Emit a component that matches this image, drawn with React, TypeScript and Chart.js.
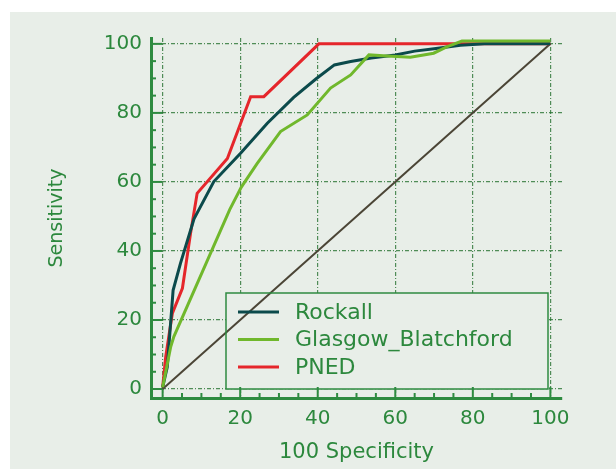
import React, { useEffect, useRef } from "react";
import { Chart, registerables } from "chart.js";

Chart.register(...registerables);

// ---- data ----
const seriesNames = ["Rockall", "Glasgow_Blatchford", "PNED"];

const rockallX = [0, 1.2, 2.7, 4.6, 8.1, 13.2, 20.1, 27, 33.8, 39.6, 44.3, 48.5, 53.8, 60, 65, 70, 76.8, 83, 100];
const rockallY = [0.5, 6.4, 28.6, 36.4, 49.3, 60.1, 68.3, 77, 84.5, 89.9, 93.9, 94.9, 95.9, 96.8, 97.9, 98.6, 99.6, 100, 100];

const glasgowX = [0, 2.1, 2.9, 17.3, 20.3, 24.4, 30.4, 37.3, 43.3, 48.5, 53.2, 57.9, 63.9, 69.9, 73.4, 77.2, 100];
const glasgowY = [0.5, 12.3, 15.2, 52, 58.5, 65.4, 74.6, 79.4, 87.2, 91, 96.8, 96.5, 96.1, 97.3, 99.2, 100.8, 100.8];

const pnedX = [0, 0.8, 2.5, 5.1, 7.2, 8.9, 16.7, 22.7, 26.1, 40.3, 100];
const pnedY = [0.5, 9.4, 21.9, 29.2, 45.1, 56.7, 66.8, 84.7, 84.7, 100, 100];

const diagX = [0, 100];
const diagY = [0, 100];

const tickValues = [0, 20, 40, 60, 80, 100];
const minorStep = 5;
const xTitle = "100 Specificity";
const yTitle = "Sensitivity";

// ---- styles ----
const PANEL = "#e8eee8";
const GREEN = "#2e8b40";
const TEXT_GREEN = "#2c883d";
const GRID = "rgba(40,115,50,0.8)";
const C_ROCKALL = "#0b4a4b";
const C_GLASGOW = "#70b82c";
const C_PNED = "#e5262b";
const C_DIAG = "#4b4536";
const FONT = "'DejaVu Sans', sans-serif";

const toPts = (xs: number[], ys: number[]) => xs.map((x, i) => ({ x, y: ys[i] }));

const decorPlugin = {
  id: "decor",
  beforeDatasetsDraw(chart: any) {
    const { ctx, chartArea, scales } = chart;
    const xs = scales.x;
    const ys = scales.y;
    ctx.save();
    // legend background (hides grid)
    const lx = chartArea.left + 75;
    const ly = chartArea.top + 255;
    ctx.fillStyle = PANEL;
    ctx.fillRect(lx, ly, 322, 96);
    // inward tick marks
    ctx.strokeStyle = GREEN;
    ctx.lineWidth = 2;
    for (let v = 0; v <= 100; v += minorStep) {
      const major = tickValues.includes(v);
      const len = major ? 11 : 5;
      const py = ys.getPixelForValue(v);
      ctx.beginPath();
      ctx.moveTo(chartArea.left, py);
      ctx.lineTo(chartArea.left + len, py);
      ctx.stroke();
      const px = xs.getPixelForValue(v);
      ctx.beginPath();
      ctx.moveTo(px, chartArea.bottom);
      ctx.lineTo(px, chartArea.bottom - len);
      ctx.stroke();
    }
    ctx.restore();
  },
  afterDatasetsDraw(chart: any) {
    const { ctx, chartArea } = chart;
    const lx = chartArea.left + 75;
    const ly = chartArea.top + 255;
    ctx.save();
    ctx.strokeStyle = GREEN;
    ctx.lineWidth = 1.5;
    ctx.strokeRect(lx, ly, 322, 96);
    const items = chart.data.datasets.filter((d: any) => d.label);
    items.sort((a: any, b: any) => seriesNames.indexOf(a.label) - seriesNames.indexOf(b.label));
    ctx.font = `22px ${FONT}`;
    ctx.textBaseline = "middle";
    items.forEach((d: any, i: number) => {
      const yy = ly + 19 + i * 27.5;
      ctx.strokeStyle = d.borderColor;
      ctx.lineWidth = 3;
      ctx.beginPath();
      ctx.moveTo(lx + 12, yy);
      ctx.lineTo(lx + 53, yy);
      ctx.stroke();
      ctx.fillStyle = TEXT_GREEN;
      ctx.fillText(d.label, lx + 69, yy + 1);
    });
    ctx.restore();
  },
};

export default function App() {
  const ref = useRef<HTMLCanvasElement | null>(null);

  useEffect(() => {
    if (!ref.current) return;
    const tickCfg = {
      color: TEXT_GREEN,
      font: { family: FONT, size: 20 },
      padding: 9,
    };
    const chart = new Chart(ref.current, {
      type: "line",
      data: {
        datasets: [
          {
            label: seriesNames[1],
            data: toPts(glasgowX, glasgowY),
            borderColor: C_GLASGOW,
            borderWidth: 3,
            order: 0,
          },
          {
            label: seriesNames[0],
            data: toPts(rockallX, rockallY),
            borderColor: C_ROCKALL,
            borderWidth: 3,
            order: 1,
          },
          {
            label: seriesNames[2],
            data: toPts(pnedX, pnedY),
            borderColor: C_PNED,
            borderWidth: 3,
            order: 2,
          },
          {
            label: "",
            data: toPts(diagX, diagY),
            borderColor: C_DIAG,
            borderWidth: 2,
            order: 3,
          },
        ],
      },
      options: {
        responsive: false,
        animation: false,
        devicePixelRatio: 1,
        elements: { point: { radius: 0 }, line: { tension: 0 } },
        layout: { padding: { left: 0, top: 38, right: 54, bottom: 4 } },
        plugins: { legend: { display: false }, tooltip: { enabled: false } },
        scales: {
          x: {
            type: "linear",
            min: -3,
            max: 103,
            afterBuildTicks: (s: any) => {
              s.ticks = tickValues.map((v) => ({ value: v }));
            },
            afterFit: (s: any) => {
              s.height = 67;
            },
            ticks: { ...tickCfg, maxRotation: 0, autoSkip: false },
            grid: { color: GRID, lineWidth: 1.2, drawTicks: false },
            border: { display: true, color: GREEN, width: 3, dash: [4, 2, 1, 2] },
            title: {
              display: true,
              text: xTitle,
              color: TEXT_GREEN,
              font: { family: FONT, size: 21 },
              padding: 0,
            },
          },
          y: {
            type: "linear",
            min: -2.6,
            max: 101.7,
            afterBuildTicks: (s: any) => {
              s.ticks = tickValues.map((v) => ({ value: v }));
            },
            afterFit: (s: any) => {
              s.width = 151;
            },
            ticks: { ...tickCfg, autoSkip: false },
            grid: { color: GRID, lineWidth: 1.2, drawTicks: false },
            border: { display: true, color: GREEN, width: 3, dash: [4, 2, 1, 2] },
            title: {
              display: true,
              text: yTitle,
              color: TEXT_GREEN,
              font: { family: FONT, size: 19 },
              padding: { top: 46, bottom: 0 },
            },
          },
        },
      },
      plugins: [decorPlugin],
    } as any);
    return () => chart.destroy();
  }, []);

  return (
    <div style={{ position: "absolute", left: 0, top: 0, width: 616, height: 469, background: "#ffffff" }}>
      <div style={{ position: "absolute", left: 10, top: 12, width: 606, height: 457, background: PANEL }} />
      <canvas
        ref={ref}
        width={616}
        height={469}
        style={{ position: "absolute", left: 0, top: 0, width: 616, height: 469 }}
      />
    </div>
  );
}
